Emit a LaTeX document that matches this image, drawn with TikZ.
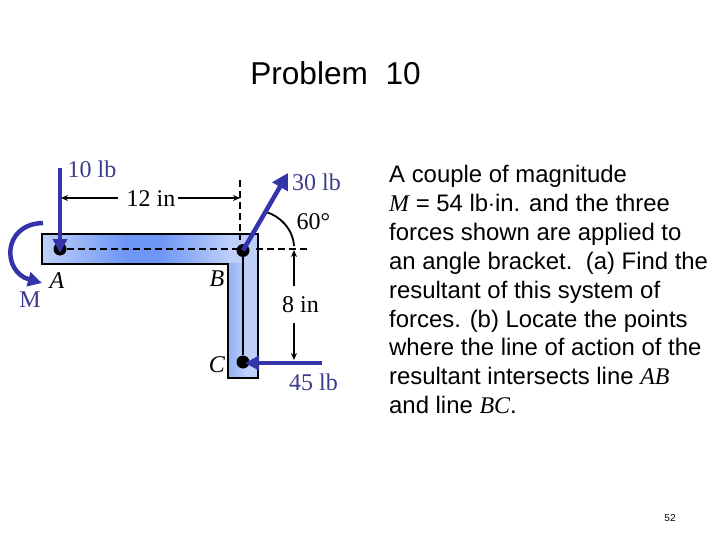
\documentclass[tikz,border=0pt]{standalone}
\usepackage{fontspec}
\setmainfont{Liberation Sans}
\newfontfamily\serifx{Liberation Serif}
\usetikzlibrary{arrows.meta,shadings}
\definecolor{forceblue}{RGB}{51,51,170}
\definecolor{labelblue}{RGB}{60,60,140}
\definecolor{barlight}{RGB}{190,208,250}
\definecolor{barmid}{RGB}{110,150,245}
\tikzset{
  x=1pt,y=-1pt,
  force/.style={draw=forceblue,line width=4.5pt,-{Triangle[length=14pt,width=14pt]}},
  bigforce/.style={draw=forceblue,line width=4.5pt,-{Triangle[length=16pt,width=17pt]}},
  dim/.style={draw=black,line width=1.4pt,-{Stealth[length=7pt,width=6pt]}},
  guide/.style={draw=black,line width=1.6pt,dash pattern=on 7pt off 4pt},
  dotn/.style={circle,fill=black,inner sep=0pt,minimum size=13pt},
  lab/.style={font=\serifx\fontsize{24}{24}\selectfont,inner sep=0pt},
  blab/.style={lab,text=labelblue},
  ilab/.style={font=\serifx\itshape\fontsize{24}{24}\selectfont,inner sep=0pt},
  para/.style={font=\fontsize{23.9}{28.9}\selectfont,inner sep=0pt,anchor=north west,align=left},
}
\begin{document}
\begin{tikzpicture}
\useasboundingbox (0,0) rectangle (720,540);
% bracket
\shade[left color=barlight,right color=barmid,shading=axis,shading angle=90] (42,234) rectangle (125.5,264);
\fill[barmid] (125,234) rectangle (160.5,264);
\shade[left color=barmid,right color=barlight,shading=axis,shading angle=90] (160,234) rectangle (230,264);
\fill[barlight] (229.5,234) rectangle (258,264);
\shade[left color=barmid!55!barlight,right color=barlight,shading=axis,shading angle=90] (228,263.5) rectangle (246,378);
\fill[barlight] (245.5,263.5) rectangle (258,378);
\draw[black,line width=1.8pt] (42,234) -- (258,234) -- (258,378) -- (228,378) -- (228,264) -- (42,264) -- cycle;
% points
\node[dotn] (A) at (60,249) {};
\node[dotn] (B) at (243,250.5) {};
\node[dotn] (C) at (243,362) {};
% coordinates
\coordinate (t10) at (60,168);
\coordinate (tipA) at (60,253);
\coordinate (tipC) at (245,363);
\coordinate (l12) at (61,198);
\coordinate (r12) at (240,198);
\coordinate (gtop) at (240,180);
\coordinate (gbot) at (240,240);
\coordinate (gl) at (256,249);
\coordinate (gr) at (308,249);
\coordinate (tip30) at (288,173);
\coordinate (tail45) at (322,363);
\coordinate (arcS) at (294,246);
\coordinate (arcE) at (266,212);
\coordinate (d8top) at (294,250);
\coordinate (d8bot) at (294,360);
\coordinate (d8a) at (294,286);
\coordinate (d8b) at (294,323);
\coordinate (m1) at (43,223);
\coordinate (m2) at (42,283);
% guides
\draw[guide] (A) -- (A -| B);
\draw[guide] (gtop) -- (gbot);
\draw[guide] (gl) -- (gr);
\draw[black,line width=1.8pt] (B) -- (C);
% arc
\draw[black,line width=1.8pt] (arcS) .. controls (293,229) and (280,216) .. (arcE);
% dimensions
\draw[dim] (118,198) -- (l12);
\draw[dim] (178,198) -- (r12);
\draw[dim] (d8a) -- (d8top);
\draw[dim] (d8b) -- (d8bot);
% forces
\draw[force] (t10) -- (tipA);
\draw[bigforce] (B.center) -- (tip30);
\draw[force] (tail45) -- (tipC);
\draw[force] (m1) .. controls (2,224) and (2,272) .. (m2);
% labels
\node[font=\fontsize{31.6}{34}\selectfont,inner sep=0pt] (title) at (335.5,73) {Problem\ \ 10};
\node[blab] (l10) at (92,169) {10 lb};
\node[lab] (l12t) at (151,199) {12 in};
\node[blab] (l30) at (316.5,182) {30 lb};
\node[lab] (l60) at (313.5,222) {60\textdegree};
\node[lab] (l8) at (300.5,305) {8 in};
\node[blab] (l45) at (313.5,382) {45 lb};
\node[ilab] (lA) at (57,281) {A};
\node[ilab] (lB) at (217,279) {B};
\node[ilab] (lC) at (217,365) {C};
\node[blab] (lM) at (30,300) {M};
\node[para] (txt) at (389,165) {A couple of magnitude\\
{\serifx\itshape M} = 54 lb$\cdot$in. and the three\\
forces shown are applied to\\
an angle bracket.\ \ (a) Find the\\
resultant of this system of\\
forces. (b) Locate the points\\
where the line of action of the\\
resultant intersects line {\serifx\itshape AB}\\
and line {\serifx\itshape BC}.};
\node[font=\fontsize{10}{12}\selectfont,inner sep=0pt] (pg) at (670,518) {52};
\end{tikzpicture}
\end{document}
